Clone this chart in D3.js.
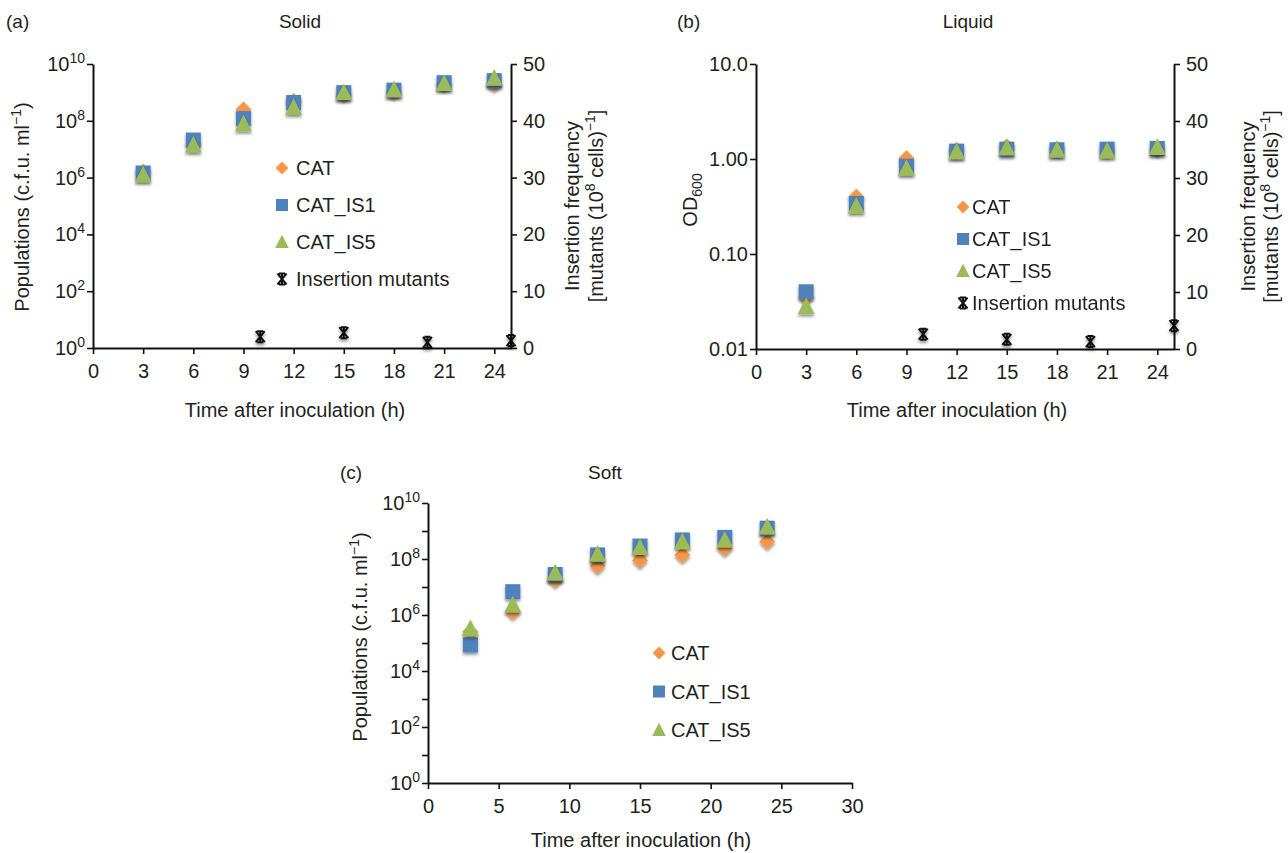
<!DOCTYPE html>
<html><head><meta charset="utf-8">
<script src="https://cdn.jsdelivr.net/npm/d3@7"></script>
<style>
body{margin:0;background:#fff}
text{font-family:"Liberation Sans",Arial,Helvetica,sans-serif;fill:#231f20}
</style>
</head><body>
<svg id="chart" width="1288" height="853"></svg>
<script>
// ---------------- data ----------------
const hours = [3, 6, 9, 12, 15, 18, 21, 24];
const seriesNames = ["CAT", "CAT_IS1", "CAT_IS5"];

// (a) Solid, populations (c.f.u. per ml)
const solidCAT = [1.6e6, 1.6e7, 2.5e8, 5.0e8, 9.0e8, 1.1e9, 2.0e9, 2.0e9];
const solidIS1 = [1.45e6, 2.1e7, 1.2e8, 4.4e8, 9.8e8, 1.2e9, 2.2e9, 2.6e9];
const solidIS5 = [1.25e6, 1.4e7, 7.8e7, 3.0e8, 1.0e9, 1.26e9, 2.1e9, 3.2e9];
const solidInsTimes = [10, 15, 20, 25];
const solidInsFreq = [2.0, 2.7, 1.0, 1.3];

// (b) Liquid, OD600
const liquidCAT = [0.035, 0.40, 1.02, 1.25, 1.35, 1.28, 1.25, 1.30];
const liquidIS1 = [0.040, 0.34, 0.84, 1.21, 1.27, 1.25, 1.27, 1.29];
const liquidIS5 = [0.028, 0.32, 0.80, 1.20, 1.32, 1.25, 1.22, 1.33];
const liquidInsTimes = [10, 15, 20, 25];
const liquidInsFreq = [2.6, 1.7, 1.3, 4.1];

// (c) Soft, populations
const softCAT = [2.5e5, 1.3e6, 1.8e7, 5.6e7, 9.1e7, 1.4e8, 2.4e8, 4.2e8];
const softIS1 = [8.5e4, 6.8e6, 2.8e7, 1.4e8, 2.9e8, 4.8e8, 5.9e8, 1.26e9];
const softIS5 = [3.3e5, 2.3e6, 3.2e7, 1.5e8, 2.6e8, 4.2e8, 4.8e8, 1.4e9];

// ticks
const xTicks3 = [0, 3, 6, 9, 12, 15, 18, 21, 24];
const xTicks5 = [0, 5, 10, 15, 20, 25, 30];
const popTickExp = [0, 2, 4, 6, 8, 10];
const popMinorExp = [0, 1, 2, 3, 4, 5, 6, 7, 8, 9, 10];
const odTicks = [0.01, 0.1, 1, 10];
const odTickLabels = ["0.01", "0.10", "1.00", "10.0"];
const freqTicks = [0, 10, 20, 30, 40, 50];

// ---------------- style ----------------
const colors = {CAT: "#f79646", CAT_IS1: "#4f81bd", CAT_IS5: "#9bbb59"};
const FS = 20;

const svg = d3.select("#chart");
const defs = svg.append("defs");
const flt = defs.append("filter").attr("id", "sh")
  .attr("x", "-50%").attr("y", "-50%").attr("width", "200%").attr("height", "200%");
flt.append("feDropShadow").attr("dx", 0).attr("dy", 2.2).attr("stdDeviation", 1.4)
  .attr("flood-color", "#000").attr("flood-opacity", 0.45);

function markerPath(name, k) {
  if (name === "CAT") { const s = 8 * k; return `M0,${-s}L${s},0L0,${s}L${-s},0Z`; }
  if (name === "CAT_IS1") { const s = 7.5 * k; return `M${-s},${-s}H${s}V${s}H${-s}Z`; }
  if (name === "CAT_IS5") { const w = 8.5 * k, h = 9 * k; return `M0,${-h}L${w},${h * 0.85}L${-w},${h * 0.85}Z`; }
  return "";
}
const starPath = "M-4.5,-5.5L4.5,5.5M4.5,-5.5L-4.5,5.5M0,-6V6M-3,-5.5H3M-3,5.5H3";

function rich(g, parts, x, y, opts = {}) {
  const t = g.append("text").attr("x", x).attr("y", y)
    .attr("font-size", opts.size || FS)
    .attr("text-anchor", opts.anchor || "start");
  if (opts.transform) t.attr("transform", opts.transform);
  let shift = 0;
  parts.forEach(p => {
    const ts = t.append("tspan");
    if (p.sup) { ts.attr("dy", -8 - shift).attr("font-size", 14); shift = -8; }
    else if (p.sub) { ts.attr("dy", 5 - shift).attr("font-size", 14); shift = 5; }
    else { if (shift !== 0) ts.attr("dy", -shift); shift = 0; }
    ts.text(p.t);
  });
  return t;
}

function panel(cfg) {
  const g = svg.append("g");
  const x = d3.scaleLinear().domain(cfg.xDomain).range([cfg.x0, cfg.x1]);
  const y = d3.scaleLog().domain(cfg.yDomain).range([cfg.y1, cfg.y0]);

  // x axis
  const xa = g.append("g").attr("transform", `translate(0,${cfg.y1})`)
    .call(d3.axisBottom(x).tickValues(cfg.xTicks).tickSize(6).tickPadding(6).tickSizeOuter(0));
  xa.attr("font-family", null);
  xa.select(".domain").attr("stroke", "#111").attr("stroke-width", 2);
  xa.selectAll(".tick line").attr("stroke", "#111").attr("stroke-width", 1.6);
  xa.selectAll(".tick text").attr("font-size", FS).attr("dy", "0.9em");

  // left axis
  const ya = g.append("g").attr("transform", `translate(${cfg.x0},0)`)
    .call(d3.axisLeft(y).tickValues(cfg.yTickVals).tickSize(6).tickPadding(4).tickSizeOuter(0)
      .tickFormat(() => ""));
  ya.attr("font-family", null);
  ya.select(".domain").attr("stroke", "#111").attr("stroke-width", 2);
  ya.selectAll(".tick line").attr("stroke", "#111").attr("stroke-width", 1.6);
  cfg.yLabels.forEach((lab, i) => {
    const v = cfg.yLabelVals[i];
    if (cfg.supLabels) {
      rich(g, [{t: "10"}, {t: String(lab), sup: true}], cfg.x0 - 8, y(v) + 7, {anchor: "end"});
    } else {
      g.append("text").attr("x", cfg.x0 - 8).attr("y", y(v) + 7).attr("text-anchor", "end")
        .attr("font-size", FS).text(lab);
    }
  });

  // right axis
  let y2 = null;
  if (cfg.right) {
    y2 = d3.scaleLinear().domain([0, 50]).range([cfg.y1, cfg.y0]);
    const ra = g.append("g").attr("transform", `translate(${cfg.x1},0)`)
      .call(d3.axisRight(y2).tickValues(freqTicks).tickSize(6).tickPadding(6).tickSizeOuter(0));
    ra.attr("font-family", null);
    ra.select(".domain").attr("stroke", "#111").attr("stroke-width", 2);
    ra.selectAll(".tick line").attr("stroke", "#111").attr("stroke-width", 1.6);
    ra.selectAll(".tick text").attr("font-size", FS);
    const cy = (cfg.y0 + cfg.y1) / 2;
    const lx1 = cfg.x1 + cfg.rt1, lx2 = cfg.x1 + cfg.rt2;
    g.append("text").attr("transform", `translate(${lx1},${cy}) rotate(-90)`)
      .attr("text-anchor", "middle").attr("font-size", FS).attr("dy", 7).text("Insertion frequency");
    rich(g, [{t: "[mutants (10"}, {t: "8", sup: true}, {t: " cells)"}, {t: "\u22121", sup: true}, {t: "]"}],
      0, 7, {anchor: "middle", transform: `translate(${lx2},${cy}) rotate(-90)`});
  }

  // titles
  g.append("text").attr("x", cfg.tagX).attr("y", cfg.tagY).attr("font-size", 19).text(cfg.tag);
  g.append("text").attr("x", cfg.titleX).attr("y", cfg.tagY).attr("font-size", 19)
    .attr("text-anchor", "middle").text(cfg.title);
  g.append("text").attr("x", cfg.xTitleX).attr("y", cfg.xTitleY).attr("font-size", FS)
    .attr("text-anchor", "middle").text("Time after inoculation (h)");
  rich(g, cfg.yTitle, 0, 7, {anchor: "middle",
    transform: `translate(${cfg.yTitleX},${cfg.yTitleY}) rotate(-90)`});

  // data
  const series = cfg.series;
  seriesNames.forEach((name, si) => {
    g.append("g").attr("filter", "url(#sh)").selectAll("path").data(series[si]).join("path")
      .attr("d", markerPath(name, 1)).attr("fill", colors[name])
      .attr("transform", (d, i) => `translate(${x(hours[i])},${y(d)})`);
  });
  if (cfg.insTimes) {
    g.append("g").attr("filter", "url(#sh)").selectAll("path").data(cfg.insFreq).join("path")
      .attr("d", starPath).attr("fill", "none").attr("stroke", "#111").attr("stroke-width", 2)
      .attr("transform", (d, i) => `translate(${x(cfg.insTimes[i])},${y2(d)})`);
  }

  // legend
  const L = cfg.legend;
  const items = cfg.insTimes ? seriesNames.concat(["Insertion mutants"]) : seriesNames;
  items.forEach((name, i) => {
    const cy = L.y + i * L.dy;
    if (name === "Insertion mutants") {
      g.append("path").attr("d", starPath).attr("fill", "none").attr("stroke", "#111")
        .attr("stroke-width", 2).attr("transform", `translate(${L.mx},${cy})`);
    } else {
      g.append("path").attr("d", markerPath(name, 0.8)).attr("fill", colors[name])
        .attr("transform", `translate(${L.mx},${cy})`);
    }
    g.append("text").attr("x", L.tx).attr("y", cy + 7).attr("font-size", FS).text(name);
  });
}

const popTitle = [{t: "Populations (c.f.u. ml"}, {t: "\u22121", sup: true}, {t: ")"}];

panel({
  x0: 93, x1: 511, y0: 64, y1: 348, xDomain: [0, 25], yDomain: [1, 1e10],
  xTicks: xTicks3, yTickVals: popTickExp.map(e => Math.pow(10, e)),
  yLabels: popTickExp, yLabelVals: popTickExp.map(e => Math.pow(10, e)), supLabels: true,
  right: true, rt1: 61, rt2: 85,
  tag: "(a)", tagX: 6, tagY: 28, title: "Solid", titleX: 300,
  xTitleX: 295, xTitleY: 417, yTitle: popTitle, yTitleX: 22, yTitleY: 207,
  series: [solidCAT, solidIS1, solidIS5], insTimes: solidInsTimes, insFreq: solidInsFreq,
  legend: {mx: 282, tx: 296, y: 168, dy: 37}
});

panel({
  x0: 756, x1: 1174, y0: 64, y1: 349, xDomain: [0, 25], yDomain: [0.01, 10],
  xTicks: xTicks3, yTickVals: odTicks,
  yLabels: odTickLabels, yLabelVals: odTicks, supLabels: false,
  right: true, rt1: 74, rt2: 97,
  tag: "(b)", tagX: 677, tagY: 28, title: "Liquid", titleX: 968,
  xTitleX: 957, xTitleY: 417, yTitle: [{t: "OD"}, {t: "600", sub: true}], yTitleX: 690, yTitleY: 200,
  series: [liquidCAT, liquidIS1, liquidIS5], insTimes: liquidInsTimes, insFreq: liquidInsFreq,
  legend: {mx: 963, tx: 972, y: 207, dy: 32}
});

panel({
  x0: 428, x1: 852, y0: 503, y1: 783, xDomain: [0, 30], yDomain: [1, 1e10],
  xTicks: xTicks5, yTickVals: popMinorExp.map(e => Math.pow(10, e)),
  yLabels: popTickExp, yLabelVals: popTickExp.map(e => Math.pow(10, e)), supLabels: true,
  right: false,
  tag: "(c)", tagX: 340, tagY: 479, title: "Soft", titleX: 605,
  xTitleX: 641, xTitleY: 847, yTitle: popTitle, yTitleX: 360, yTitleY: 637,
  series: [softCAT, softIS1, softIS5],
  legend: {mx: 659, tx: 671, y: 653, dy: 38.5}
});
</script>
</body></html>
